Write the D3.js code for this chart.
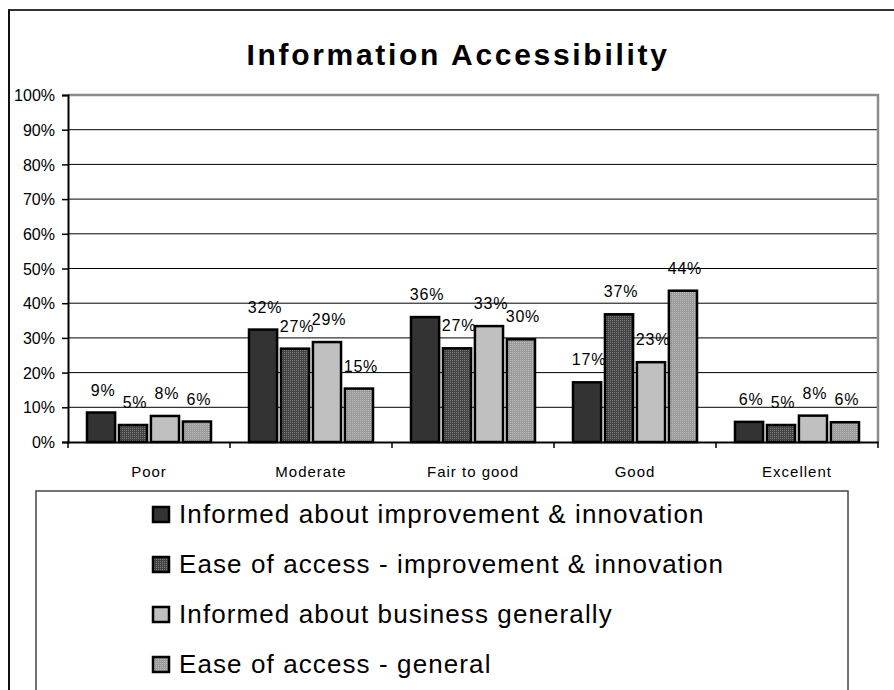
<!doctype html>
<html>
<head>
<meta charset="utf-8">
<script src="https://d3js.org/d3.v7.min.js"></script>
<style>
  body { margin: 0; background: #fff; }
  text { font-family: "Liberation Sans", Arial, sans-serif; fill: #000; }
</style>
</head>
<body>
<div class="graph"></div>

<script>
// data (percent)
var categories = ["Poor", "Moderate", "Fair to good", "Good", "Excellent"];
var seriesNames = [
  "Informed about improvement & innovation",
  "Ease of access - improvement & innovation",
  "Informed about business generally",
  "Ease of access - general"
];
var informedImprovement = [8.5, 32.4, 36, 17.2, 5.8];
var accessImprovement   = [4.9, 26.9, 27, 36.8, 4.9];
var informedBusiness    = [7.5, 28.8, 33.4, 23, 7.6];
var accessGeneral       = [5.9, 15.4, 29.6, 43.6, 5.7];
var yTicks = [0, 10, 20, 30, 40, 50, 60, 70, 80, 90, 100];

var seriesValues = [informedImprovement, accessImprovement, informedBusiness, accessGeneral];
var fills = ["#333333", "url(#dots-dark)", "#c0c0c0", "url(#dots-light)"];

var width = 894, height = 690;
var plotLeft = 68, plotRight = 878, plotTop = 95, plotBottom = 442;

var svg = d3.select('.graph')
  .append('svg')
  .attr('width', width)
  .attr('height', height);

// patterns for the dotted bars
var defs = svg.append('defs');
var p1 = defs.append('pattern').attr('id', 'dots-dark')
  .attr('width', 2).attr('height', 2).attr('patternUnits', 'userSpaceOnUse');
p1.append('rect').attr('width', 2).attr('height', 2).attr('fill', '#444');
p1.append('rect').attr('width', 1).attr('height', 1).attr('fill', '#7a7a7a');
var p2 = defs.append('pattern').attr('id', 'dots-light')
  .attr('width', 2).attr('height', 2).attr('patternUnits', 'userSpaceOnUse');
p2.append('rect').attr('width', 2).attr('height', 2).attr('fill', '#9a9a9a');
p2.append('rect').attr('width', 1).attr('height', 1).attr('fill', '#bdbdbd');

// outer chart frame
svg.append('line').attr('x1', 8).attr('y1', 10).attr('x2', width).attr('y2', 10)
  .attr('stroke', '#333').attr('stroke-width', 2);
svg.append('line').attr('x1', 9).attr('y1', 10).attr('x2', 9).attr('y2', height)
  .attr('stroke', '#111').attr('stroke-width', 2);

svg.append('text')
  .attr('x', 458).attr('y', 65)
  .attr('text-anchor', 'middle')
  .style('font-size', '30px').style('font-weight', 'bold').style('letter-spacing', '2.7px')
  .text('Information Accessibility');

var x = d3.scaleBand().domain(categories).range([plotLeft, plotRight]);
var x1 = d3.scaleBand().domain(d3.range(seriesValues.length)).range([19, 143]).paddingInner(0.12);
var y = d3.scaleLinear().domain([0, 100]).range([plotBottom, plotTop]);

// gridlines
svg.append('g')
  .selectAll('line')
  .data(yTicks.filter(function(d){ return d > 0 && d < 100; }))
  .enter().append('line')
  .attr('x1', plotLeft).attr('x2', plotRight)
  .attr('y1', function(d){ return y(d); }).attr('y2', function(d){ return y(d); })
  .attr('stroke', '#000').attr('stroke-width', 1);

// plot border top + right
svg.append('path')
  .attr('d', 'M' + plotLeft + ',' + y(100) + 'H' + plotRight + 'V' + plotBottom)
  .attr('fill', 'none').attr('stroke', '#8c8c8c').attr('stroke-width', 2.5);

// y axis
var yAxis = d3.axisLeft(y).tickValues(yTicks).tickSize(6).tickPadding(7)
  .tickFormat(function(d){ return d + '%'; });
var gy = svg.append('g').attr('transform', 'translate(' + plotLeft + ',0)').call(yAxis);
gy.select('.domain').attr('stroke', '#000').attr('stroke-width', 2);
gy.selectAll('.tick line').attr('stroke', '#000').attr('stroke-width', 1.5);
gy.selectAll('.tick text')
  .style('font-size', '16px').style('font-family', '"Liberation Sans", Arial, sans-serif')
  .attr('fill', '#000').attr('dy', '0.35em');

// bars
var groups = svg.append('g')
  .selectAll('g')
  .data(seriesValues)
  .enter().append('g');

groups.selectAll('rect')
  .data(function(vals, s){ return vals.map(function(v, i){ return {s: s, c: categories[i], v: v}; }); })
  .enter().append('rect')
  .attr('x', function(d){ return x(d.c) + x1(d.s); })
  .attr('y', function(d){ return y(d.v); })
  .attr('width', x1.bandwidth())
  .attr('height', function(d){ return plotBottom - y(d.v); })
  .attr('fill', function(d){ return fills[d.s]; })
  .attr('stroke', '#000').attr('stroke-width', 2.5);

// value labels
groups.selectAll('text')
  .data(function(vals, s){ return vals.map(function(v, i){ return {s: s, c: categories[i], v: v}; }); })
  .enter().append('text')
  .attr('x', function(d){ return x(d.c) + x1(d.s) + x1.bandwidth() / 2 + 2; })
  .attr('y', function(d){ return y(d.v) - 17; })
  .attr('text-anchor', 'middle')
  .style('font-size', '16px').style('letter-spacing', '0.8px')
  .text(function(d){ return Math.round(d.v) + '%'; });

// x axis
var xAxis = d3.axisBottom(x).tickSize(0).tickPadding(0);
var gx = svg.append('g').attr('transform', 'translate(0,' + plotBottom + ')').call(xAxis);
gx.select('.domain').attr('stroke', '#000').attr('stroke-width', 2);
gx.selectAll('.tick text')
  .attr('y', 35).attr('dy', 0).attr('fill', '#000')
  .style('font-size', '15px').style('letter-spacing', '1px')
  .style('font-family', '"Liberation Sans", Arial, sans-serif');
gx.selectAll('.sep')
  .data(categories.concat(['end']))
  .enter().append('line').attr('class', 'sep')
  .attr('x1', function(d, i){ return i < categories.length ? x(d) : plotRight; })
  .attr('x2', function(d, i){ return i < categories.length ? x(d) : plotRight; })
  .attr('y1', 0).attr('y2', 6)
  .attr('stroke', '#000').attr('stroke-width', 1.5);

// legend
var legend = svg.append('g');
legend.append('rect')
  .attr('x', 36).attr('y', 491).attr('width', 812).attr('height', 230)
  .attr('fill', '#fff').attr('stroke', '#444').attr('stroke-width', 1.5);

var item = legend.selectAll('.item')
  .data(seriesNames)
  .enter().append('g').attr('class', 'item')
  .attr('transform', function(d, i){ return 'translate(152,' + (523 + i * 50) + ')'; });

item.append('rect')
  .attr('x', 1).attr('y', -16).attr('width', 16).attr('height', 15)
  .attr('fill', function(d, i){ return fills[i]; })
  .attr('stroke', '#000').attr('stroke-width', 2.5);

item.append('text')
  .attr('x', 27).attr('y', 0)
  .style('font-size', '26px').style('letter-spacing', '1.1px')
  .text(function(d){ return d; });
</script>
</body>
</html>
